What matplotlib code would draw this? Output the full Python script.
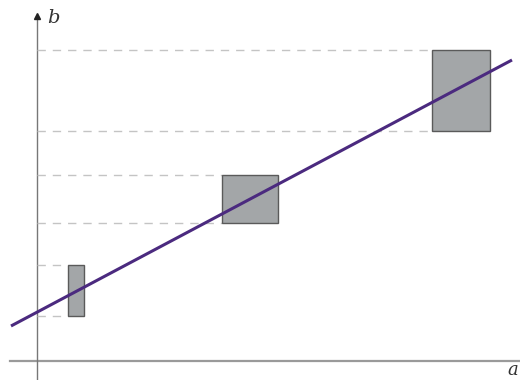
import matplotlib
matplotlib.use("Agg")
import matplotlib.pyplot as plt
from matplotlib.patches import Rectangle

# Data (a on x, b on y), origin at the axes crossing
rect_a_lo = [31, 185, 395]
rect_a_hi = [47, 241, 453]
rect_b_lo = [45, 138, 230]
rect_b_hi = [96, 186, 311]
line_a = [-26, 475]
line_b = [35, 301]

fig = plt.figure(figsize=(5.2, 3.8), dpi=100)
ax = fig.add_axes([0, 0, 1, 1])
ax.set_xlim(-37, 483)
ax.set_ylim(-19, 361)
ax.axis("off")

axis_col = "#9a9a9a"
# axes
ax.plot([-27, 483], [0, 0], color=axis_col, lw=1.6, zorder=1)
ax.plot([0, 0], [-19, 343], color="#777777", lw=1.0, zorder=1)
ax.plot([0], [345], marker="^", color="#222222", markersize=5, zorder=2)

# dashed guides
for alo, blo, bhi in zip(rect_a_lo, rect_b_lo, rect_b_hi):
    for b in (blo, bhi):
        ax.plot([0, alo], [b, b], color="#c4c4c4", lw=1.0, ls=(0, (6, 5)), zorder=1)

# rectangles
for alo, ahi, blo, bhi in zip(rect_a_lo, rect_a_hi, rect_b_lo, rect_b_hi):
    ax.add_patch(Rectangle((alo, blo), ahi - alo, bhi - blo, facecolor="#a3a6a8",
                           edgecolor="#5a5a5a", lw=1.0, zorder=3))

# fitted line
ax.plot(line_a, line_b, color="#4b2a7f", lw=2.2, zorder=4, solid_capstyle="butt")

ax.text(10, 343, "b", fontsize=14, family="DejaVu Serif", style="italic",
        va="center", ha="left", color="#333333")
ax.text(470, -18, "a", fontsize=13, family="DejaVu Serif", style="italic",
        va="bottom", ha="left", color="#333333")

fig.savefig("out.png", dpi=100)
